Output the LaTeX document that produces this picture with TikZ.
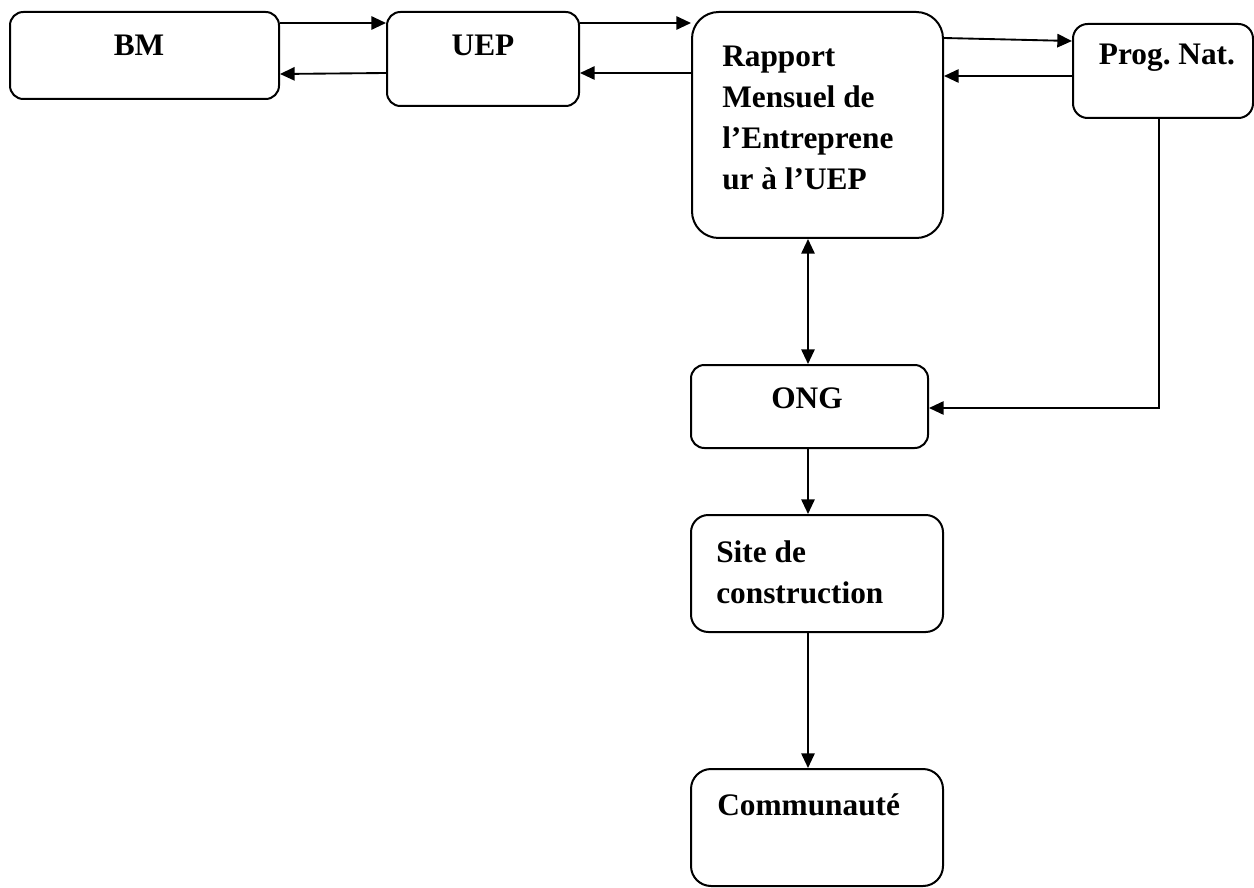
\documentclass[tikz,border=0pt]{standalone}
\usepackage{fontspec}
\setmainfont{Liberation Serif}
\usetikzlibrary{arrows.meta,calc}
\begin{document}
\frenchspacing
\begin{tikzpicture}[x=0.75pt,y=-0.75pt,
  box/.style={draw,line width=1.5pt,rounded corners=#1,minimum width=0pt,minimum height=0pt,inner sep=0pt},
  box/.default=10pt,
  lbl/.style={font=\fontsize{23.5}{30.8}\selectfont\bfseries,inner sep=0pt},
  arr/.style={line width=1.4pt,-{Triangle[length=11pt,width=10pt]}},
  darr/.style={line width=1.4pt,{Triangle[length=11pt,width=10pt]}-{Triangle[length=11pt,width=10pt]}}]
\useasboundingbox (0,0) rectangle (1254,888);
% boxes
\node[box=10pt,minimum width=269*0.75pt,minimum height=87*0.75pt] (bm) at (144.5,55.5) {};
\node[box=10pt,minimum width=192*0.75pt,minimum height=94*0.75pt] (uep) at (483,59) {};
\node[box=20pt,minimum width=251*0.75pt,minimum height=226*0.75pt] (rap) at (817.5,125) {};
\node[box=11pt,minimum width=180*0.75pt,minimum height=94*0.75pt] (prog) at (1163,71) {};
\node[box=10pt,minimum width=237*0.75pt,minimum height=83*0.75pt] (ong) at (809.5,406.5) {};
\node[box=13pt,minimum width=252*0.75pt,minimum height=117*0.75pt] (site) at (817,573.5) {};
\node[box=15pt,minimum width=252*0.75pt,minimum height=117*0.75pt] (comm) at (817,827.5) {};
% texts
\node[lbl] (tbm) at (139,45) {BM};
\node[lbl] (tuep) at (483,45) {UEP};
\node[lbl] (tprog) at (1167,58) {Prog. Nat.};
\node[lbl] (tong) at (807,398) {ONG};
\node[lbl,align=left,anchor=north west] (trap) at (722,46) {Rapport\\Mensuel de\\l’Entreprene\\ur à l’UEP};
\node[lbl,align=left,anchor=north west] (tsite) at (716,540.5) {Site de\\construction};
\node[lbl,anchor=base west] (tcomm) at (717,815) {Communauté};
% connectors
\coordinate (ax) at ($(ong.south)+(-1.5,0)$);
\draw[arr] ($(bm.north east)+(0,12)$) -- ($(uep.north west)+(0,12)$);
\draw[arr] ($(uep.north west)+(0,62)$) -- ($(bm.north east)+(0,63)$);
\draw[arr] ($(uep.north east)+(0,12)$) -- ($(rap.north west)+(0,12)$);
\draw[arr] ($(rap.north west)+(0,62)$) -- ($(uep.north east)+(0,62)$);
\draw[arr] ($(rap.north east)+(0,27)$) -- ($(prog.north west)+(0,18)$);
\draw[arr] ($(prog.north west)+(0,53)$) -- ($(rap.north east)+(0,65)$);
\draw[darr] (ax |- rap.south) -- (ax |- ong.north);
\draw[arr] ($(prog.south)+(-4,0)$) |- ($(ong.east)+(0,1.5)$);
\draw[arr] (ax) -- (ax |- site.north);
\draw[arr] (ax |- site.south) -- (ax |- comm.north);
\end{tikzpicture}
\end{document}
